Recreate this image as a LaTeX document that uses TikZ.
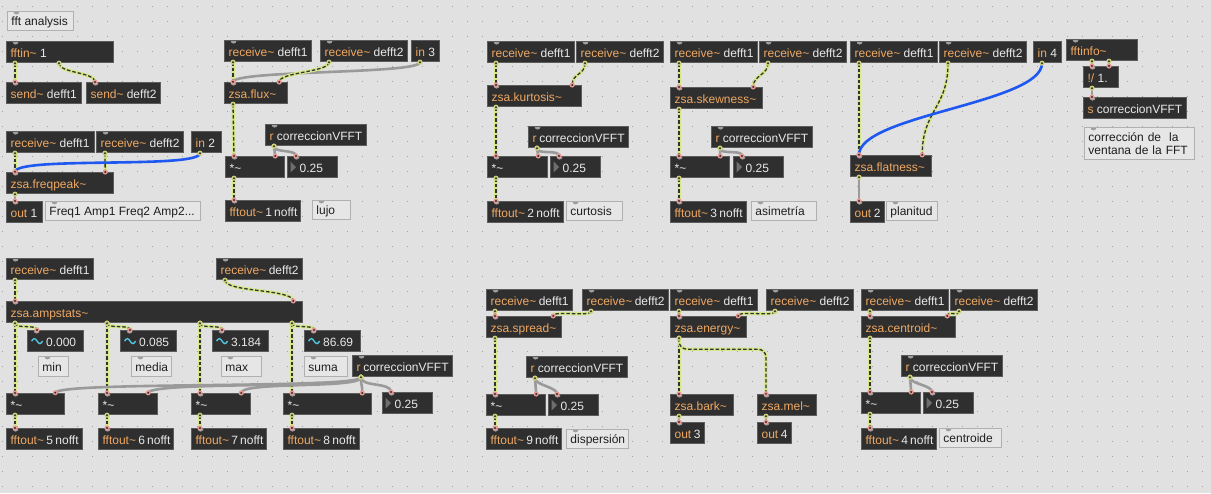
\documentclass[tikz,border=0pt]{standalone}
\usepackage{fontspec}
\setmainfont{Liberation Sans}
\usetikzlibrary{decorations.markings}

\definecolor{patchbg}{HTML}{E1E1E1}
\definecolor{griddot}{HTML}{A2A2A2}
\definecolor{boxfill}{HTML}{2F2F2F}
\definecolor{boxedge}{HTML}{5C5C5C}
\definecolor{clsname}{HTML}{EFA862}
\definecolor{argtext}{HTML}{E9E9E9}
\definecolor{cmtfill}{HTML}{E6E6E6}
\definecolor{cmtedge}{HTML}{B0B0B0}
\definecolor{cmttext}{HTML}{1E1E1E}
\definecolor{portgrey}{HTML}{9E9E9E}
\definecolor{sigline}{HTML}{D5E88A}
\definecolor{ctlline}{HTML}{9A9A9A}
\definecolor{hotline}{HTML}{1E58F0}
\definecolor{inring}{HTML}{E99A94}
\definecolor{outring}{HTML}{CDD27A}
\definecolor{wavecol}{HTML}{4EC6E0}
\definecolor{tricol}{HTML}{6E6E6E}

\newcommand{\maxfont}{\fontsize{12pt}{14pt}\selectfont}
\newcommand{\cls}[1]{\textcolor{clsname}{#1}}
\newcommand{\wv}{\textasciitilde}

\tikzset{
  maxbox/.style={anchor=north west, inner xsep=4pt, inner ysep=0pt, font=\maxfont,
    text height=11pt, text depth=1pt},
  fixw/.style={execute at begin node={\hbox to #1pt\bgroup}, execute at end node={\hfil\egroup}},
  obj/.style={maxbox, fixw=#1, draw=boxedge, fill=boxfill, line width=1.2pt,
    minimum height=21pt, text=argtext,
    path picture={\fill[portgrey] ([xshift=9pt]path picture bounding box.north west) circle (3pt);}},
  noport/.style={path picture={}},
  numbox/.style={obj=#1,
    path picture={\fill[tricol] ([xshift=3pt,yshift=5.5pt]path picture bounding box.west)
      -- ([xshift=3pt,yshift=-5.5pt]path picture bounding box.west)
      -- ([xshift=8.5pt]path picture bounding box.west) -- cycle;
      \fill[portgrey] ([xshift=9pt]path picture bounding box.north west) circle (3pt);}},
  signum/.style={obj=#1,
    path picture={\draw[wavecol, line width=1.4pt] ([xshift=4pt]path picture bounding box.west)
      sin ++(2.75,-2.5) cos ++(2.75,2.5) sin ++(2.75,2.5) cos ++(2.75,-2.5);
      \fill[portgrey] ([xshift=9pt]path picture bounding box.north west) circle (3pt);}},
  cmtbase/.style={maxbox, draw=cmtedge, fill=cmtfill, line width=0.9pt, text=cmttext,
    path picture={\fill[portgrey] ([xshift=9pt]path picture bounding box.north west) circle (3pt);}},
  cmt/.style={cmtbase, fixw=#1, minimum height=19pt},
  ends/.style={postaction={decorate, decoration={markings,
    mark=at position 0 with {\fill[outring] (0,0) circle (2.6pt); \fill[boxfill] (0,0) circle (1.1pt);},
    mark=at position 0.999 with {\fill[inring] (0,0) circle (2.6pt); \fill[boxfill] (0,0) circle (1.1pt);}}}},
  sig/.style={draw=sigline, line width=3.4pt,
    postaction={draw=black!80, line width=1.3pt, dash pattern=on 3.5pt off 2pt}, ends},
  ctl/.style={draw=ctlline, line width=2.6pt, ends},
  hot/.style={draw=hotline, line width=2.6pt, ends}
}

\begin{document}
\begin{tikzpicture}[x=1pt, y=-1pt]
  \useasboundingbox (0,0) rectangle (1211,493);
  \fill[patchbg] (0,0) rectangle (1211,493);
  \foreach \gi in {0,...,80} {
    \foreach \gj in {0,...,32} {
      \fill[griddot] (1.8+15*\gi, 5.8+15*\gj) rectangle ++(1.1,1.1);
    }
  }

  % fft in
  \node[cmt=58] (title) at (7,11) {fft analysis};
  \node[obj=99] (fftin) at (6,41) {\cls{fftin\wv} 1};
  \node[obj=67] (sendA) at (6,82) {\cls{send\wv} defft1};
  \node[obj=66] (sendB) at (86,82) {\cls{send\wv} defft2};

  % freqpeak
  \node[obj=80] (rcvFpA) at (6,131) {\cls{receive\wv} defft1};
  \node[obj=79] (rcvFpB) at (96,131) {\cls{receive\wv} defft2};
  \node[obj=22, noport] (inFp) at (191,131) {\cls{in} 2};
  \node[obj=99] (freqpeak) at (6,172) {\cls{zsa.freqpeak\wv}};
  \node[obj=28] (outFp) at (6,201) {\cls{out} 1};
  \node[cmt=147] (cmtFp) at (45,201) {Freq1 Amp1 Freq2 Amp2...};

  % flux
  \node[obj=79] (rcvFxA) at (224,40) {\cls{receive\wv} defft1};
  \node[obj=79] (rcvFxB) at (320,40) {\cls{receive\wv} defft2};
  \node[obj=20, noport] (inFx) at (411,40) {\cls{in} 3};
  \node[obj=55] (flux) at (224,82) {\cls{zsa.flux\wv}};
  \node[obj=93] (corrFx) at (265,124) {\cls{r} correccionVFFT};
  \node[obj=51] (mulFx) at (225,156) {*\wv};
  \node[numbox=42] (numFx) at (287,156) {\hskip8pt 0.25};
  \node[obj=67] (outFx) at (225,200) {\cls{fftout\wv} 1 nofft};
  \node[cmt=30] (cmtFx) at (312,200) {lujo};

  % kurtosis
  \node[obj=79] (rcvKuA) at (487,41) {\cls{receive\wv} defft1};
  \node[obj=79] (rcvKuB) at (576,41) {\cls{receive\wv} defft2};
  \node[obj=86] (kurt) at (487,85) {\cls{zsa.kurtosis\wv}};
  \node[obj=92] (corrKu) at (528,126) {\cls{r} correccionVFFT};
  \node[obj=52] (mulKu) at (487,156) {*\wv};
  \node[numbox=42] (numKu) at (550,156) {\hskip8pt 0.25};
  \node[obj=68] (outKu) at (487,201) {\cls{fftout\wv} 2 nofft};
  \node[cmt=48] (cmtKu) at (566,201) {curtosis};

  % skewness
  \node[obj=79] (rcvSkA) at (670,41) {\cls{receive\wv} defft1};
  \node[obj=79] (rcvSkB) at (759,41) {\cls{receive\wv} defft2};
  \node[obj=84] (skew) at (670,87) {\cls{zsa.skewness\wv}};
  \node[obj=93] (corrSk) at (711,126) {\cls{r} correccionVFFT};
  \node[obj=51] (mulSk) at (670,156) {*\wv};
  \node[numbox=42] (numSk) at (733,156) {\hskip8pt 0.25};
  \node[obj=68] (outSk) at (670,201) {\cls{fftout\wv} 3 nofft};
  \node[cmt=57] (cmtSk) at (751,201) {asimetría};

  % flatness
  \node[obj=79] (rcvFlA) at (850,41) {\cls{receive\wv} defft1};
  \node[obj=79] (rcvFlB) at (939,41) {\cls{receive\wv} defft2};
  \node[obj=20, noport] (inFl) at (1033,41) {\cls{in} 4};
  \node[obj=73] (flat) at (850,155) {\cls{zsa.flatness\wv}};
  \node[obj=26] (outFl) at (850,201) {\cls{out} 2};
  \node[cmt=43] (cmtFl) at (886,201) {planitud};

  % window correction
  \node[obj=63] (fftinfo) at (1066,39) {\cls{fftinfo\wv}};
  \node[obj=27] (rdiv) at (1083,66) {\cls{!/} 1.};
  \node[obj=95] (sendCorr) at (1083,97) {\cls{s} correccionVFFT};
  \node[cmtbase, minimum height=32pt, text width=102pt, align=left, text depth=14pt,
    font=\fontsize{12pt}{13pt}\selectfont] (cmtCorr) at (1084,127)
    {corrección de\ \ la\\ventana de la FFT};

  % ampstats
  \node[obj=79] (rcvAmA) at (6,258) {\cls{receive\wv} defft1};
  \node[obj=78] (rcvAmB) at (216,258) {\cls{receive\wv} defft2};
  \node[obj=288] (amp) at (6,301) {\cls{zsa.ampstats\wv}};
  \node[signum=48] (numAm1) at (27,330) {\hskip14.5pt 0.000};
  \node[signum=48] (numAm2) at (120,330) {\hskip14.5pt 0.085};
  \node[signum=48] (numAm3) at (212,330) {\hskip14.5pt 3.184};
  \node[signum=48] (numAm4) at (304,330) {\hskip14.5pt 86.69};
  \node[cmt=22, minimum height=20pt] (cmtMin) at (38,356) {min};
  \node[cmt=32, minimum height=20pt] (cmtMedia) at (131,356) {media};
  \node[cmt=32, minimum height=20pt] (cmtMax) at (221,356) {max};
  \node[cmt=35, minimum height=20pt] (cmtSuma) at (304,356) {suma};
  \node[obj=92] (corrAm) at (352,355) {\cls{r} correccionVFFT};
  \node[obj=50] (mulAm1) at (6,393) {*\wv};
  \node[obj=51] (mulAm2) at (98,393) {*\wv};
  \node[obj=51] (mulAm3) at (191,393) {*\wv};
  \node[obj=80] (mulAm4) at (283,393) {*\wv};
  \node[numbox=42] (numAm) at (382,392) {\hskip8pt 0.25};
  \node[obj=68] (outAm1) at (6,428) {\cls{fftout\wv} 5 nofft};
  \node[obj=67] (outAm2) at (98,428) {\cls{fftout\wv} 6 nofft};
  \node[obj=67] (outAm3) at (191,428) {\cls{fftout\wv} 7 nofft};
  \node[obj=68] (outAm4) at (283,428) {\cls{fftout\wv} 8 nofft};

  % spread
  \node[obj=78] (rcvSpA) at (486,289) {\cls{receive\wv} defft1};
  \node[obj=78] (rcvSpB) at (582,289) {\cls{receive\wv} defft2};
  \node[obj=67] (spread) at (486,316) {\cls{zsa.spread\wv}};
  \node[obj=93] (corrSp) at (526,356) {\cls{r} correccionVFFT};
  \node[obj=51] (mulSp) at (486,394) {*\wv};
  \node[numbox=42] (numSp) at (548,394) {\hskip8pt 0.25};
  \node[obj=67] (outSp) at (486,428) {\cls{fftout\wv} 9 nofft};
  \node[cmt=54] (cmtSp) at (566,429) {dispersión};

  % energy
  \node[obj=79] (rcvEnA) at (670,289) {\cls{receive\wv} defft1};
  \node[obj=79] (rcvEnB) at (766,289) {\cls{receive\wv} defft2};
  \node[obj=68] (energy) at (670,316) {\cls{zsa.energy\wv}};
  \node[obj=55] (bark) at (670,394) {\cls{zsa.bark\wv}};
  \node[obj=51] (mel) at (757,394) {\cls{zsa.mel\wv}};
  \node[obj=26] (outEnA) at (670,422) {\cls{out} 3};
  \node[obj=26] (outEnB) at (757,422) {\cls{out} 4};

  % centroid
  \node[obj=79] (rcvCeA) at (861,289) {\cls{receive\wv} defft1};
  \node[obj=79] (rcvCeB) at (950,289) {\cls{receive\wv} defft2};
  \node[obj=86] (centroid) at (861,316) {\cls{zsa.centroid\wv}};
  \node[obj=93] (corrCe) at (901,355) {\cls{r} correccionVFFT};
  \node[obj=51] (mulCe) at (861,392) {*\wv};
  \node[numbox=42] (numCe) at (923,392) {\hskip8pt 0.25};
  \node[obj=67] (outCe) at (861,428) {\cls{fftout\wv} 4 nofft};
  \node[cmt=54] (cmtCe) at (939,428) {centroide};

  % patch cords
  \draw[sig] ([xshift=9pt]fftin.south west) -- ([xshift=9pt]sendA.north west);
  \draw[sig] ([xshift=53pt]fftin.south west) .. controls +(0,10) and +(0,-10) .. ([xshift=9pt]sendB.north west);

  \draw[sig] ([xshift=9pt]rcvFpA.south west) -- ([xshift=9pt]freqpeak.north west);
  \draw[sig] ([xshift=9pt]rcvFpB.south west) -- ([xshift=-9pt]freqpeak.north east);
  \draw[hot] ([xshift=9pt]inFp.south west) .. controls +(0,16) and +(0,-16) .. ([xshift=9pt]freqpeak.north west);
  \draw[ctl] ([xshift=9pt]freqpeak.south west) -- ([xshift=9pt]outFp.north west);

  \draw[sig] ([xshift=9pt]rcvFxA.south west) -- ([xshift=9pt]flux.north west);
  \draw[ctl] ([xshift=9pt]inFx.south west) .. controls +(0,12) and +(0,-12) .. ([xshift=9pt]flux.north west);
  \draw[sig] ([xshift=9pt]rcvFxB.south west) .. controls +(0,10) and +(0,-10) .. ([xshift=-9pt]flux.north east);
  \draw[sig] ([xshift=9pt]flux.south west) -- ([xshift=9pt]mulFx.north west);
  \draw[ctl] ([xshift=9pt]corrFx.south west) -- ([xshift=-10pt]mulFx.north east);
  \draw[ctl] ([xshift=9pt]corrFx.south west) .. controls +(0,7) and +(0,-7) .. ([xshift=9pt]numFx.north west);
  \draw[sig] ([xshift=9pt]mulFx.south west) -- ([xshift=9pt]outFx.north west);

  \draw[sig] ([xshift=9pt]rcvKuA.south west) -- ([xshift=9pt]kurt.north west);
  \draw[sig] ([xshift=9pt]rcvKuB.south west) .. controls +(0,12) and +(0,-12) .. ([xshift=-10pt]kurt.north east);
  \draw[sig] ([xshift=9pt]kurt.south west) -- ([xshift=9pt]mulKu.north west);
  \draw[ctl] ([xshift=9pt]corrKu.south west) -- ([xshift=-10pt]mulKu.north east);
  \draw[ctl] ([xshift=9pt]corrKu.south west) .. controls +(0,7) and +(0,-7) .. ([xshift=9pt]numKu.north west);
  \draw[sig] ([xshift=9pt]mulKu.south west) -- ([xshift=9pt]outKu.north west);

  \draw[sig] ([xshift=9pt]rcvSkA.south west) -- ([xshift=9pt]skew.north west);
  \draw[sig] ([xshift=9pt]rcvSkB.south west) .. controls +(0,12) and +(0,-12) .. ([xshift=-10pt]skew.north east);
  \draw[sig] ([xshift=9pt]skew.south west) -- ([xshift=9pt]mulSk.north west);
  \draw[ctl] ([xshift=9pt]corrSk.south west) -- ([xshift=-10pt]mulSk.north east);
  \draw[ctl] ([xshift=9pt]corrSk.south west) .. controls +(0,7) and +(0,-7) .. ([xshift=9pt]numSk.north west);
  \draw[sig] ([xshift=9pt]mulSk.south west) -- ([xshift=9pt]outSk.north west);

  \draw[sig] ([xshift=9pt]rcvFlA.south west) -- ([xshift=9pt]flat.north west);
  \draw[sig] ([xshift=9pt]rcvFlB.south west) .. controls +(0,45) and +(0,-45) .. ([xshift=-10pt]flat.north east);
  \draw[hot] ([xshift=9pt]inFl.south west) .. controls +(0,40) and +(0,-40) .. ([xshift=9pt]flat.north west);
  \draw[ctl] ([xshift=9pt]flat.south west) -- ([xshift=9pt]outFl.north west);

  \draw[ctl] ([xshift=26pt]fftinfo.south west) -- ([xshift=9pt]rdiv.north west);
  \draw[ctl] ([xshift=43pt]fftinfo.south west) -- ([xshift=26pt]rdiv.north west);
  \draw[ctl] ([xshift=9pt]rdiv.south west) -- ([xshift=9pt]sendCorr.north west);

  \draw[sig] ([xshift=9pt]rcvAmA.south west) -- ([xshift=9pt]amp.north west);
  \draw[sig] ([xshift=9pt]rcvAmB.south west) .. controls +(0,12) and +(0,-12) .. ([xshift=-10pt]amp.north east);
  \foreach \k/\dx in {1/9, 2/101, 3/194, 4/286} {
    \draw[sig] ([xshift=\dx pt]amp.south west) -- ([xshift=9pt]mulAm\k.north west);
    \draw[sig] ([xshift=\dx pt]amp.south west) .. controls +(0,6) and +(0,-6) .. ([xshift=10pt]numAm\k.north west);
    \draw[sig] ([xshift=9pt]mulAm\k.south west) -- ([xshift=9pt]outAm\k.north west);
  }
  \foreach \k in {1,...,4} {
    \draw[ctl] ([xshift=9pt]corrAm.south west) .. controls +(0,12) and +(0,-12) .. ([xshift=-10pt]mulAm\k.north east);
  }
  \draw[ctl] ([xshift=9pt]corrAm.south west) .. controls +(0,10) and +(0,-10) .. ([xshift=9pt]numAm.north west);

  \draw[sig] ([xshift=9pt]rcvSpA.south west) -- ([xshift=9pt]spread.north west);
  \draw[sig] ([xshift=9pt]rcvSpB.south west) .. controls +(0,6) and +(0,-6) .. ([xshift=-9pt]spread.north east);
  \draw[sig] ([xshift=9pt]spread.south west) -- ([xshift=9pt]mulSp.north west);
  \draw[ctl] ([xshift=9pt]corrSp.south west) -- ([xshift=-10pt]mulSp.north east);
  \draw[ctl] ([xshift=9pt]corrSp.south west) .. controls +(0,7) and +(0,-7) .. ([xshift=9pt]numSp.north west);
  \draw[sig] ([xshift=9pt]mulSp.south west) -- ([xshift=9pt]outSp.north west);

  \draw[sig] ([xshift=9pt]rcvEnA.south west) -- ([xshift=9pt]energy.north west);
  \draw[sig] ([xshift=9pt]rcvEnB.south west) .. controls +(0,6) and +(0,-6) .. ([xshift=-9pt]energy.north east);
  \draw[sig] ([xshift=9pt]energy.south west) -- ([xshift=9pt]bark.north west);
  \draw[sig, rounded corners=8pt] ([xshift=9pt]energy.south west) -- ++(0,11) -| ([xshift=9pt]mel.north west);
  \draw[ctl] ([xshift=9pt]bark.south west) -- ([xshift=9pt]outEnA.north west);
  \draw[ctl] ([xshift=9pt]mel.south west) -- ([xshift=9pt]outEnB.north west);

  \draw[sig] ([xshift=9pt]rcvCeA.south west) -- ([xshift=9pt]centroid.north west);
  \draw[sig] ([xshift=9pt]rcvCeB.south west) .. controls +(0,6) and +(0,-6) .. ([xshift=-9pt]centroid.north east);
  \draw[sig] ([xshift=9pt]centroid.south west) -- ([xshift=9pt]mulCe.north west);
  \draw[ctl] ([xshift=9pt]corrCe.south west) -- ([xshift=-10pt]mulCe.north east);
  \draw[ctl] ([xshift=9pt]corrCe.south west) .. controls +(0,7) and +(0,-7) .. ([xshift=9pt]numCe.north west);
  \draw[sig] ([xshift=9pt]mulCe.south west) -- ([xshift=9pt]outCe.north west);
\end{tikzpicture}
\end{document}
